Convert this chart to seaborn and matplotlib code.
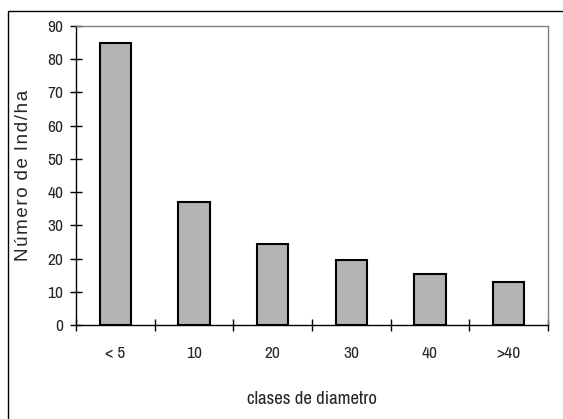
import seaborn as sns
import pandas as pd
import matplotlib.pyplot as plt
from matplotlib.patches import Rectangle

sns.set_style('white')
plt.rcParams['font.family'] = ['Archivo Narrow', 'Roboto Condensed', 'DejaVu Sans']

clases = ['< 5', '10', '20', '30', '40', '>40']
individuos = [85, 37, 24.5, 19.5, 15.5, 13]

df = pd.DataFrame({'clase': clases, 'ind': individuos})

fig = plt.figure(figsize=(5.63, 4.19), dpi=100)
ax = fig.add_axes([76 / 563, 94 / 419, 472 / 563, 299 / 419])

sns.barplot(data=df, x='clase', y='ind', ax=ax, color='#b3b3b3',
            edgecolor='black', linewidth=1.5, width=0.4, saturation=1)

ax.set_ylim(0, 90)
ax.set_xlim(-0.5, len(clases) - 0.5)
ax.set_yticks(range(0, 91, 10))
ax.set_xticks([i + 0.5 for i in range(-1, len(clases))], minor=True)
ax.tick_params(axis='x', which='major', length=0, pad=15, labelsize=12.5)
ax.tick_params(axis='x', which='minor', direction='inout', length=8, width=1, color='black')
ax.tick_params(axis='y', direction='inout', length=8, width=1, color='black', labelsize=12.5, pad=5)
ax.yaxis.set_ticks_position('left')
ax.xaxis.set_ticks_position('bottom')

for s in ['left', 'bottom']:
    ax.spines[s].set_color('black')
    ax.spines[s].set_linewidth(1)
for s in ['top', 'right']:
    ax.spines[s].set_color('#808080')
    ax.spines[s].set_linewidth(1)

ax.set_xlabel('clases de diametro', fontsize=13.5, labelpad=22)
ylab = '\u200a'.join('Número') + ' \u200a' + '\u200a'.join('de') + ' \u200a' + '\u200a'.join('Ind/ha')
ax.set_ylabel(ylab, fontsize=13.5, labelpad=11, family=['Liberation Sans', 'DejaVu Sans'])

# outer chart frame
fig.patches.append(Rectangle((8 / 563, -0.1), 1.0, (419 - 11) / 419 + 0.1,
                             transform=fig.transFigure, fill=False,
                             edgecolor='black', linewidth=1))

fig.savefig('out.png', dpi=100)
